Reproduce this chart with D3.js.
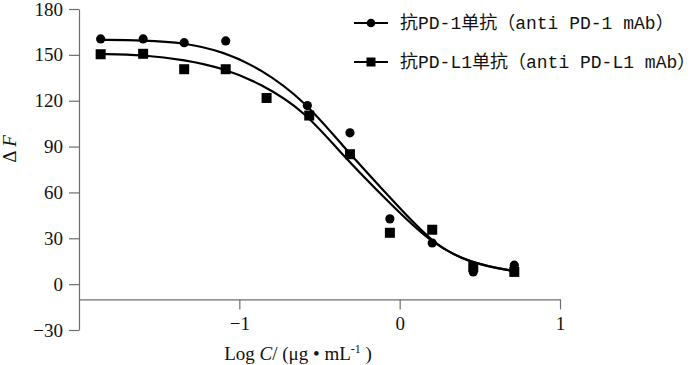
<!DOCTYPE html>
<html>
<head>
<meta charset="utf-8">
<script src="https://cdn.jsdelivr.net/npm/d3@7"></script>
<style>
  body { margin: 0; background: #fff; }
  svg { display: block; }
</style>
</head>
<body>
<div id="chart"></div>
<script>
// measured points, Log C vs delta F
const logC_pd1 = [-1.865, -1.600, -1.344, -1.085, -0.576, -0.310, -0.061, 0.203, 0.459, 0.715];
const dF_pd1   = [160.4, 160.4, 158.0, 159.1, 116.8, 99.0, 42.7, 26.9, 8.0, 12.4];
const logC_pdl1 = [-1.865, -1.600, -1.344, -1.085, -0.830, -0.564, -0.310, -0.061, 0.203, 0.459, 0.715];
const dF_pdl1   = [150.4, 150.7, 140.6, 140.6, 121.8, 110.3, 85.0, 33.6, 35.6, 11.2, 8.0];

// fitted curves
const fitX_pd1 = [-1.870, -1.601, -1.339, -1.102, -0.871, -0.590, -0.372, -0.060, 0.208, 0.438, 0.707];
const fitY_pd1 = [159.8, 159.6, 158.0, 152.1, 141.3, 119.6, 92.3, 56.6, 26.0, 13.7, 8.6];
const fitX_pdl1 = [-1.870, -1.601, -1.339, -1.102, -0.871, -0.590, -0.372, -0.060, 0.189, 0.438, 0.707];
const fitY_pdl1 = [150.6, 150.0, 146.8, 141.3, 131.5, 113.1, 86.0, 52.7, 27.3, 13.7, 8.6];

const xTicks = [-1, 0, 1];
const yTicks = [-30, 0, 30, 60, 90, 120, 150, 180];
const legendLabels = ["抗PD-1单抗（anti PD-1 mAb）", "抗PD-L1单抗（anti PD-L1 mAb）"];

const W = 700, H = 365;
const svg = d3.select("#chart").append("svg")
  .attr("width", W).attr("height", H);

const x = d3.scaleLinear().domain([-2, 1]).range([79, 560]);
const y = d3.scaleLinear().domain([-30, 180]).range([330, 9]);

const axisColor = "#6e6e6e";
const serif = "'Liberation Serif', 'Times New Roman', serif";

// y axis
const gy = svg.append("g")
  .attr("transform", `translate(${x(-2)},0)`)
  .call(d3.axisLeft(y).tickValues(yTicks).tickSize(10).tickPadding(6).tickSizeOuter(0));
// x axis sits at dF = -10
const gx = svg.append("g")
  .attr("transform", `translate(0,${y(-10)})`)
  .call(d3.axisBottom(x).tickValues(xTicks).tickSize(10).tickPadding(7).tickSizeOuter(0)
    .tickFormat(d => d < 0 ? "\u2212" + Math.abs(d) : d));

[gx, gy].forEach(g => {
  g.select(".domain").attr("stroke", axisColor).attr("stroke-width", 1.2);
  g.selectAll(".tick line").attr("stroke", axisColor).attr("stroke-width", 1.2);
  g.selectAll(".tick text").attr("fill", "#111")
    .style("font-family", serif).style("font-size", "19px");
});

// axis titles
const yl = svg.append("text")
  .attr("transform", "translate(16,149) rotate(-90)")
  .attr("text-anchor", "middle")
  .style("font-family", serif).style("font-size", "19px").attr("fill", "#111");
yl.append("tspan").text("\u0394 ");
yl.append("tspan").style("font-style", "italic").text("F");

const xl = svg.append("text")
  .attr("x", 298).attr("y", 360)
  .attr("text-anchor", "middle")
  .style("font-family", serif).style("font-size", "19px").attr("fill", "#111");
xl.append("tspan").text("Log ");
xl.append("tspan").style("font-style", "italic").text("C");
xl.append("tspan").text("/ (\u03bcg \u2022 mL");
xl.append("tspan").attr("dy", -7).style("font-size", "12px").text("-1");
xl.append("tspan").attr("dy", 7).text(" )");

// curves
const line = d3.line().x(d => x(d[0])).y(d => y(d[1])).curve(d3.curveBasis);
const curves = [
  d3.zip(fitX_pd1, fitY_pd1),
  d3.zip(fitX_pdl1, fitY_pdl1)
];
svg.selectAll(".fit").data(curves).enter()
  .append("path")
  .attr("class", "fit")
  .attr("d", line)
  .attr("fill", "none")
  .attr("stroke", "#000")
  .attr("stroke-width", 2.2);

// points
svg.selectAll(".dot").data(d3.zip(logC_pd1, dF_pd1)).enter()
  .append("circle")
  .attr("class", "dot")
  .attr("cx", d => x(d[0]))
  .attr("cy", d => y(d[1]))
  .attr("r", 4.6)
  .attr("fill", "#000");

const sq = 10;
svg.selectAll(".sq").data(d3.zip(logC_pdl1, dF_pdl1)).enter()
  .append("rect")
  .attr("class", "sq")
  .attr("x", d => x(d[0]) - sq / 2)
  .attr("y", d => y(d[1]) - sq / 2)
  .attr("width", sq).attr("height", sq)
  .attr("fill", "#000");

// legend
const legY = [23, 62];
const leg = svg.selectAll(".leg").data(legendLabels).enter()
  .append("g").attr("class", "leg")
  .attr("transform", (d, i) => `translate(354,${legY[i]})`);
leg.append("line")
  .attr("x1", 0).attr("x2", 34)
  .attr("stroke", "#000").attr("stroke-width", 2.2);
leg.filter((d, i) => i === 0).append("circle")
  .attr("cx", 17).attr("r", 4.3).attr("fill", "#000");
leg.filter((d, i) => i === 1).append("rect")
  .attr("x", 12.5).attr("y", -4.5).attr("width", 9).attr("height", 9).attr("fill", "#000");
leg.append("text")
  .attr("x", 46).attr("dy", "0.35em")
  .style("font-family", "'Liberation Mono', 'Noto Sans CJK SC', monospace")
  .style("font-size", "18px")
  .attr("fill", "#111")
  .text(d => d);
</script>
</body>
</html>
